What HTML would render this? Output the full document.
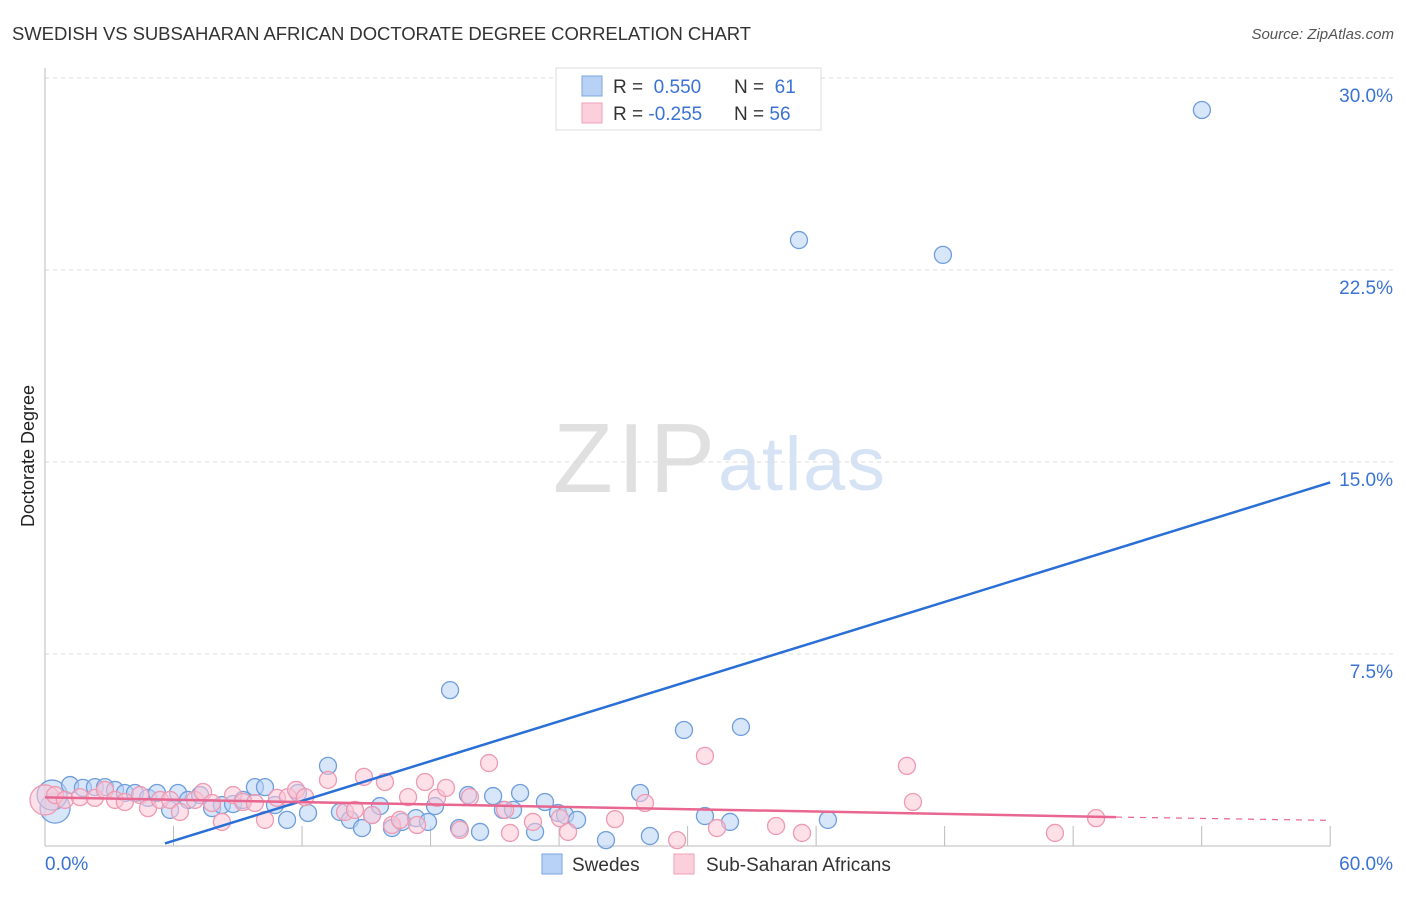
<!DOCTYPE html>
<html><head><meta charset="utf-8"><style>
body{margin:0;background:#fff;font-family:"Liberation Sans",sans-serif;}
svg text{font-family:"Liberation Sans",sans-serif;}
</style></head><body>
<svg id="chart" width="1406" height="892" xmlns="http://www.w3.org/2000/svg">
<text x="12" y="40" font-size="18.5" fill="#333" textLength="739">SWEDISH VS SUBSAHARAN AFRICAN DOCTORATE DEGREE CORRELATION CHART</text>
<text x="1394" y="39" font-size="15" fill="#555" font-style="italic" text-anchor="end">Source: ZipAtlas.com</text>
<text x="34" y="456" font-size="18" fill="#222" text-anchor="middle" transform="rotate(-90 34 456)">Doctorate Degree</text>
<g>
<text x="553" y="492" font-size="98" fill="#e0e0e0" font-family="Liberation Serif,serif" textLength="162">ZIP</text>
<text x="718" y="490" font-size="76" fill="#d6e3f5" textLength="167">atlas</text>
</g>
<g id="grid"></g><g id="axes"></g><g id="pts"></g><g id="lines"></g>
<g>
<rect x="556" y="68" width="265" height="62" fill="#fff" stroke="#ddd"/>
<rect x="582" y="76" width="20" height="20" fill="#b8d2f5" stroke="#7aa6e0"/>
<rect x="582" y="103" width="20" height="20" fill="#fbd0dc" stroke="#f0a0b8"/>
<text x="613" y="93" font-size="19" fill="#333">R = <tspan fill="#3b73d4">&#160;0.550</tspan></text>
<text x="734" y="93" font-size="19" fill="#333">N = <tspan fill="#3b73d4">&#160;61</tspan></text>
<text x="613" y="120" font-size="19" fill="#333">R = <tspan fill="#3b73d4">-0.255</tspan></text>
<text x="734" y="120" font-size="19" fill="#333">N = <tspan fill="#3b73d4">56</tspan></text>
</g>
<g>
<rect x="542" y="854" width="20" height="20" fill="#b8d2f5" stroke="#7aa6e0"/>
<text x="572" y="871" font-size="19" fill="#333">Swedes</text>
<rect x="674" y="854" width="20" height="20" fill="#fbd0dc" stroke="#f0a0b8"/>
<text x="706" y="871" font-size="19" fill="#333">Sub-Saharan Africans</text>
</g>
</svg>
<script>
const yTicks=[7.5,15,22.5,30];
const yTickLabels=["7.5%","15.0%","22.5%","30.0%"];
const xTickLabels=["0.0%","60.0%"];
const swedesX=[0.47,0.33,1.17,1.77,2.33,2.80,3.27,3.73,4.20,4.81,5.23,5.84,6.21,6.68,7.24,7.80,8.26,8.78,9.24,9.80,10.27,10.74,11.30,11.81,12.28,13.21,13.77,14.24,14.80,15.27,15.64,16.20,16.67,17.32,17.88,18.21,18.91,19.33,19.75,20.31,20.92,21.38,21.85,22.18,22.88,23.34,23.95,24.28,24.84,26.19,27.78,28.24,29.83,30.81,31.98,32.49,35.20,36.55,41.92,54.01];
const swedesY=[1.48,1.99,2.38,2.27,2.30,2.30,2.19,2.07,2.07,1.88,2.07,1.41,2.07,1.80,1.99,1.48,1.60,1.64,1.80,2.30,2.30,1.60,1.02,2.07,1.29,3.13,1.33,1.02,0.70,1.21,1.56,0.70,0.94,1.09,0.94,1.56,6.09,0.70,1.99,0.55,1.95,1.41,1.41,2.07,0.55,1.72,1.29,1.21,1.02,0.23,2.07,0.39,4.53,1.17,0.94,4.65,23.67,1.02,23.09,28.75];
const afrX=[0,0.47,0.93,1.63,2.33,2.80,3.27,3.73,4.44,4.81,5.37,5.84,6.30,7.00,7.38,7.80,8.26,8.78,9.24,9.80,10.27,10.83,11.34,11.72,12.14,13.21,14.01,14.47,14.89,15.27,15.87,16.20,16.57,16.95,17.37,17.74,18.30,18.72,19.37,19.84,20.73,21.48,21.71,22.78,24.04,24.42,26.61,28.01,29.51,30.81,31.37,34.13,35.34,40.24,40.52,47.15,49.07];
const afrY=[1.80,1.99,1.80,1.91,1.88,2.19,1.80,1.72,1.99,1.48,1.80,1.80,1.33,1.80,2.11,1.68,0.94,1.99,1.72,1.68,1.02,1.88,1.91,2.19,1.91,2.58,1.33,1.41,2.70,1.21,2.50,0.82,1.02,1.91,0.82,2.50,1.88,2.27,0.63,1.91,3.24,1.41,0.51,0.94,1.09,0.55,1.05,1.68,0.23,3.52,0.70,0.78,0.51,3.13,1.72,0.51,1.09];
const swedesTrend=[[5.6,0.1],[60,14.2]];
const afrTrend=[[0,1.9],[50,1.13],[60,1.0]];
const X=v=>45+v*21.42, Y=v=>846-v*25.6;
const NS="http://www.w3.org/2000/svg";
function mk(t,a,p){const e=document.createElementNS(NS,t);for(const k in a)e.setAttribute(k,a[k]);p.appendChild(e);return e;}
const grid=document.getElementById('grid'),axes=document.getElementById('axes'),pts=document.getElementById('pts'),lines=document.getElementById('lines');
yTicks.forEach((t,i)=>{
 const l=mk('line',{x1:45,x2:1393,y1:Y(t),y2:Y(t),stroke:'#ddd','stroke-dasharray':'4,4'},grid);
 
 
 const tx=mk('text',{x:1393,y:Y(t)+24,'font-size':19,fill:'#3b73d4','text-anchor':'end'},grid);
 tx.textContent=yTickLabels[i];
 
 
});
const ax=mk('line',{x1:45,x2:1330,y1:846,y2:846,stroke:'#bbb'},axes);


const ay=mk('line',{x1:45,x2:45,y1:68,y2:846,stroke:'#bbb'},axes);


for(let k=1;k<=10;k++){const v=k*6;const tk=mk('line',{x1:X(v),x2:X(v),y1:826,y2:846,stroke:'#bbb'},axes);
 
 }
const xl0=mk('text',{x:45,y:870,'font-size':19,fill:'#3b73d4'},axes);xl0.textContent=xTickLabels[0];


const xl1=mk('text',{x:1393,y:870,'font-size':19,fill:'#3b73d4','text-anchor':'end'},axes);xl1.textContent=xTickLabels[1];


function dots(xs,ys,fill,stroke,name,bigIdx){xs.forEach((x,i)=>{const r=bigIdx.includes(i)?15:8.5;
 const c=mk('circle',{cx:X(x),cy:Y(ys[i]),r:r,fill:fill,'fill-opacity':0.55,stroke:stroke,'stroke-width':1.3},pts);
 
 });}
dots(swedesX,swedesY,'#b8d2f5','#6f9edc','swedes-point',[0,1]);
dots(afrX,afrY,'#fbc6d5','#ee9ab3','subsaharan-point',[0]);
const bl=mk('line',{x1:X(swedesTrend[0][0]),y1:Y(swedesTrend[0][1]),x2:X(swedesTrend[1][0]),y2:Y(swedesTrend[1][1]),stroke:'#2a6fd6','stroke-width':2.5},lines);


const pl=mk('line',{x1:X(afrTrend[0][0]),y1:Y(afrTrend[0][1]),x2:X(afrTrend[1][0]),y2:Y(afrTrend[1][1]),stroke:'#e8668f','stroke-width':2.5},lines);


const pd=mk('line',{x1:X(afrTrend[1][0]),y1:Y(afrTrend[1][1]),x2:X(afrTrend[2][0]),y2:Y(afrTrend[2][1]),stroke:'#e8668f','stroke-width':1.2,'stroke-dasharray':'6,6'},lines);


</script>
</body></html>
